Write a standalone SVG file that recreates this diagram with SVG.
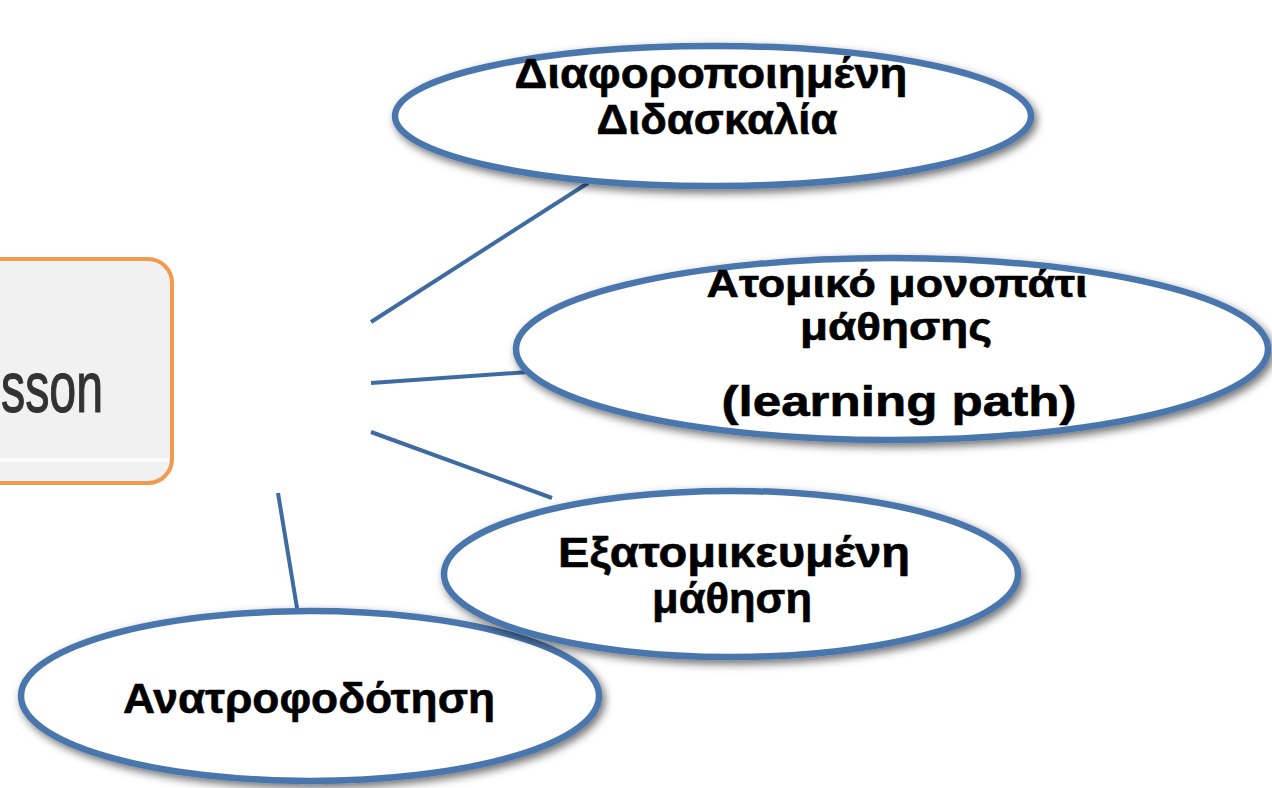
<svg xmlns="http://www.w3.org/2000/svg" width="1272" height="788" viewBox="0 0 1272 788">
  <defs>
    <filter id="shadow" x="-10%" y="-20%" width="120%" height="140%">
      <feDropShadow dx="3" dy="4" stdDeviation="4" flood-color="#000" flood-opacity="0.55"/>
    </filter>
    <filter id="soft" x="-5%" y="-20%" width="110%" height="140%">
      <feGaussianBlur stdDeviation="0.7"/>
    </filter>
  </defs>
  <style>
    .bubble { fill: #ffffff; stroke: #4a76ad; stroke-width: 6.5; filter: url(#shadow); }
    .conn { stroke: #3e6ba1; stroke-width: 4; fill: none; stroke-linecap: butt; }
    .lbl { font-family: "Liberation Sans", Arial, sans-serif; font-weight: 700; fill: #000; stroke: #000; stroke-width: 0.6; text-anchor: middle; }
    .lat { font-family: "Liberation Sans", Arial, sans-serif; font-weight: bold; fill: #000; stroke: #000; stroke-width: 0.6; text-anchor: middle; }
  </style>
  <rect width="1272" height="788" fill="#ffffff"/>

  <g id="connectors">
    <line class="conn" x1="371" y1="322" x2="588" y2="183"/>
    <line class="conn" x1="371" y1="383" x2="528" y2="372"/>
    <line class="conn" x1="371" y1="432" x2="552" y2="498"/>
    <line class="conn" x1="278" y1="493" x2="297" y2="608"/>
  </g>

  <g id="lesson-box">
    <rect x="-30" y="259" width="202" height="224" rx="24" ry="24" fill="#f1f1f1" stroke="#f29a4f" stroke-width="4"/>
    <line x1="0" y1="460" x2="169" y2="460" stroke="#fbfbfb" stroke-width="4"/>
    <text x="1" y="412" textLength="102" lengthAdjust="spacingAndGlyphs" font-family="Liberation Sans, Arial, sans-serif" font-size="72" fill="#333" stroke="#333" stroke-width="1.2" filter="url(#soft)">sson</text>
  </g>

  <g id="node-anatrofodotisi">
    <ellipse class="bubble" cx="310" cy="696" rx="289" ry="85"/>
    <text class="lbl" x="309" y="713" font-size="42" textLength="372" lengthAdjust="spacingAndGlyphs">Ανατροφοδότηση</text>
  </g>

  <g id="node-diaforopoiimeni">
    <ellipse class="bubble" cx="713" cy="116" rx="318" ry="70"/>
    <text class="lbl" x="711" y="88" font-size="42" textLength="393" lengthAdjust="spacingAndGlyphs">Διαφοροποιημένη</text>
    <text class="lbl" x="717" y="134" font-size="42" textLength="241" lengthAdjust="spacingAndGlyphs">Διδασκαλία</text>
  </g>

  <g id="node-atomiko">
    <ellipse class="bubble" cx="892" cy="349" rx="376" ry="91"/>
    <text class="lbl" x="897" y="297" font-size="38" textLength="381" lengthAdjust="spacingAndGlyphs">Ατομικό μονοπάτι</text>
    <text class="lbl" x="896" y="340" font-size="38" textLength="192" lengthAdjust="spacingAndGlyphs">μάθησης</text>
    <text class="lat" x="899" y="416" font-size="42" textLength="355" lengthAdjust="spacingAndGlyphs">(learning path)</text>
  </g>

  <g id="node-exatomikevmeni">
    <ellipse class="bubble" cx="731" cy="574" rx="287" ry="83"/>
    <text class="lbl" x="734" y="567" font-size="42" textLength="352" lengthAdjust="spacingAndGlyphs">Εξατομικευμένη</text>
    <text class="lbl" x="732" y="613" font-size="42" textLength="160" lengthAdjust="spacingAndGlyphs">μάθηση</text>
  </g>
</svg>
